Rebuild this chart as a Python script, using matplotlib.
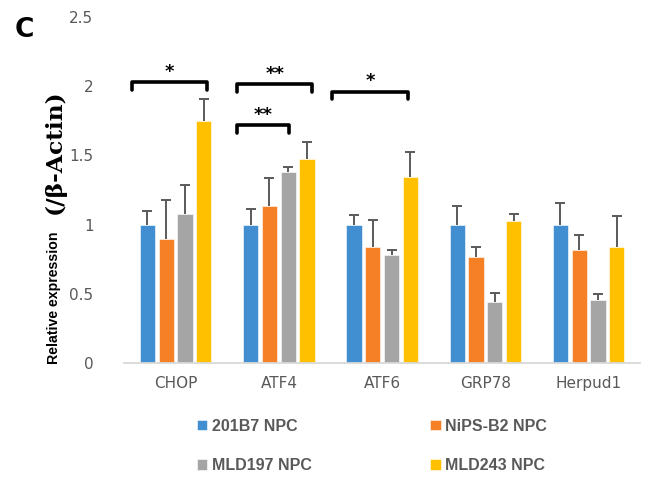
import matplotlib
matplotlib.use("Agg")
import matplotlib.pyplot as plt
import numpy as np

genes = ["CHOP", "ATF4", "ATF6", "GRP78", "Herpud1"]
series = ["201B7 NPC", "NiPS-B2 NPC", "MLD197 NPC", "MLD243 NPC"]
values = [
    [1.00, 1.00, 1.00, 1.00, 1.00],
    [0.895, 1.136, 0.842, 0.763, 0.814],
    [1.08, 1.377, 0.78, 0.438, 0.455],
    [1.747, 1.473, 1.345, 1.023, 0.837],
]
errors = [
    [0.10, 0.11, 0.07, 0.136, 0.157],
    [0.28, 0.20, 0.19, 0.074, 0.112],
    [0.21, 0.043, 0.04, 0.067, 0.043],
    [0.163, 0.127, 0.18, 0.057, 0.223],
]
colors = ["#418FD0", "#F58025", "#A5A5A5", "#FFC000"]
yticks = [0, 0.5, 1, 1.5, 2, 2.5]
ytick_labels = ["0", "0.5", "1", "1.5", "2", "2.5"]
# significance brackets: (x_start, x_end, y, label)
brackets = [
    (-0.425, 0.303, 2.03, "*"),
    (0.594, 1.325, 2.015, "**"),
    (0.594, 1.102, 1.72, "**"),
    (1.517, 2.248, 1.96, "*"),
]

fig = plt.figure(figsize=(6.46, 4.79), dpi=100)
ax = fig.add_axes([0.192, 0.242, 0.799, 0.7225])

x = np.arange(len(genes))
step = 0.182
width = 0.148
handles = []
for i, (name, vals, errs, c) in enumerate(zip(series, values, errors, colors)):
    pos = x + (i - 1.5) * step
    b = ax.bar(pos, vals, width=width, color=c, edgecolor="white", linewidth=0.4,
               label=name, zorder=2)
    eb = ax.errorbar(pos, vals, yerr=[np.zeros(len(errs)), errs], fmt="none",
                     ecolor="#5a5a5a", elinewidth=1.4, capsize=3.6, capthick=1.4, zorder=3)
    for cl in eb[1]:
        yd = np.asarray(cl.get_ydata(), dtype=float)
        if np.allclose(yd, np.asarray(vals, dtype=float)):
            cl.set_visible(False)
    handles.append(b)

dh = 0.055
for x0, x1, yb, lab in brackets:
    ax.plot([x0, x0, x1, x1], [yb - dh, yb, yb, yb - dh], color="black", lw=2.6,
            solid_joinstyle="round", solid_capstyle="round", clip_on=False, zorder=4)
    ax.text((x0 + x1) / 2, yb + 0.01, lab, ha="center", va="bottom",
            fontsize=13, fontweight="bold", color="black")

ax.set_xlim(-0.5, len(genes) - 0.5)
ax.set_ylim(0, 2.5)
ax.set_yticks(yticks)
ax.set_yticklabels(ytick_labels)
ax.set_xticks(x)
ax.set_xticklabels(genes)
ax.tick_params(axis="both", length=0, labelsize=11, labelcolor="#595959")
ax.tick_params(axis="y", pad=22)
ax.tick_params(axis="x", pad=9)
for s in ["top", "right", "left"]:
    ax.spines[s].set_visible(False)
ax.spines["bottom"].set_color("#d9d9d9")
ax.spines["bottom"].set_linewidth(1.3)

# y label: sans part + serif part
lx = 0.083
fig.text(lx, 1 - 364 / 479, "Relative expression", rotation=90, ha="center", va="bottom",
         fontsize=10.2, fontweight="bold", family="Liberation Sans", color="black")
fig.text(lx + 0.002, 1 - 89 / 479, "(/β-Actin)", rotation=90, ha="center",
         va="top", fontsize=16.8, fontweight="bold", family="DejaVu Serif",
         color="black")

fig.text(0.038, 0.937, "C", ha="center", va="center", fontsize=19, fontweight="bold")

order = [0, 2, 1, 3]
leg = fig.legend([handles[k] for k in order], [series[k] for k in order],
                 ncol=2, loc="center", bbox_to_anchor=(0.576, 0.069), frameon=False,
                 handlelength=0.65, handleheight=0.65, handletextpad=0.3,
                 columnspacing=7.4, labelspacing=1.55,
                 prop={"weight": "bold", "size": 11.5, "family": "Liberation Sans"})
for t in leg.get_texts():
    t.set_color("#595959")

fig.savefig("out.png", dpi=100)
